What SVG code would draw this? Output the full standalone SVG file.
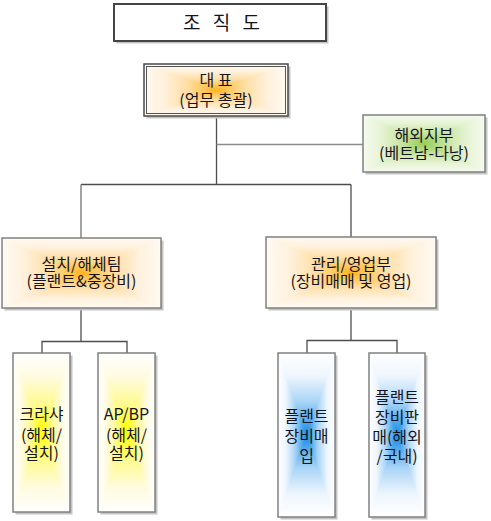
<svg xmlns="http://www.w3.org/2000/svg" width="491" height="521" viewBox="0 0 491 521">
<defs>
<linearGradient id="oH" x1="0" y1="0" x2="1" y2="0"><stop offset="0" stop-color="#fffaf3"/><stop offset="0.14" stop-color="#fff1dc"/><stop offset="0.3" stop-color="#ffdea4"/><stop offset="0.43" stop-color="#ffc452"/><stop offset="0.5" stop-color="#ffb420"/><stop offset="0.57" stop-color="#ffc452"/><stop offset="0.7" stop-color="#ffdea4"/><stop offset="0.86" stop-color="#fff1dc"/><stop offset="1" stop-color="#fffaf3"/></linearGradient>
<linearGradient id="oV" x1="0" y1="0" x2="0" y2="1" href="#oH"/>
<linearGradient id="gH" x1="0" y1="0" x2="1" y2="0"><stop offset="0" stop-color="#f6fbef"/><stop offset="0.15" stop-color="#e6f3d4"/><stop offset="0.32" stop-color="#c6e4a0"/><stop offset="0.5" stop-color="#98cd58"/><stop offset="0.68" stop-color="#c6e4a0"/><stop offset="0.85" stop-color="#e6f3d4"/><stop offset="1" stop-color="#f6fbef"/></linearGradient>
<linearGradient id="gV" x1="0" y1="0" x2="0" y2="1" href="#gH"/>
<linearGradient id="yH" x1="0" y1="0" x2="1" y2="0"><stop offset="0" stop-color="#ffffff"/><stop offset="0.15" stop-color="#fffbe0"/><stop offset="0.32" stop-color="#fffa90"/><stop offset="0.5" stop-color="#ffff00"/><stop offset="0.68" stop-color="#fffa90"/><stop offset="0.85" stop-color="#fffbe0"/><stop offset="1" stop-color="#ffffff"/></linearGradient>
<linearGradient id="yV" x1="0" y1="0" x2="0" y2="1" href="#yH"/>
<linearGradient id="bH" x1="0" y1="0" x2="1" y2="0"><stop offset="0" stop-color="#ffffff"/><stop offset="0.14" stop-color="#eef6fd"/><stop offset="0.3" stop-color="#a8d4f6"/><stop offset="0.42" stop-color="#4ea8ee"/><stop offset="0.5" stop-color="#1a8aea"/><stop offset="0.58" stop-color="#4ea8ee"/><stop offset="0.7" stop-color="#a8d4f6"/><stop offset="0.86" stop-color="#eef6fd"/><stop offset="1" stop-color="#ffffff"/></linearGradient>
<linearGradient id="bV" x1="0" y1="0" x2="0" y2="1" href="#bH"/>
</defs>
<style>
text{font-family:"Malgun Gothic","Noto Sans CJK KR","Noto Sans",sans-serif;fill:#141420;text-anchor:middle}
.t{font-size:16px}
.h{font-size:19px}
.sh{fill:#c4c4c4}
.bd{fill:none;stroke:#808080;stroke-width:1.5}
.dk{fill:none;stroke:#4a4a4a;stroke-width:1.5}
.ln{fill:none;stroke:#4d4d4d;stroke-width:1.3}
.lg{fill:none;stroke:#8c8c8c;stroke-width:1.6}
</style>
<rect width="491" height="521" fill="#ffffff"/>

<g id="connectors">
<path class="ln" d="M216.5,116V184"/>
<path class="lg" d="M216.5,144.5H363"/>
<path class="ln" d="M81,184.5H351"/>
<path class="lg" d="M81,184.5V238"/>
<path class="ln" d="M351,184.5V237"/>
<path class="ln" d="M81,308V341.5"/>
<path class="ln" d="M42,353V341.5H127V353"/>
<path class="ln" d="M351,308V340.5"/>
<path class="ln" d="M307,353V340.5H397V353"/>
</g>

<g id="title">
<rect class="sh" x="116.5" y="6.5" width="212" height="37"/>
<rect x="114" y="4" width="212" height="37" fill="#fff" stroke="#454545" stroke-width="2"/>
<text class="h" x="223.5" y="30" letter-spacing="4">조 직 도</text>
</g>

<g id="ceo">
<rect class="sh" x="146.5" y="66.5" width="144" height="52"/>
<rect x="144" y="64" width="144" height="52" fill="url(#oH)"/>
<path d="M144,64H288L216,90ZM144,116H288L216,90Z" fill="url(#oV)"/>
<rect class="dk" x="144" y="64" width="144" height="52"/>
<rect x="146.5" y="66.5" width="139" height="47" fill="none" stroke="#555" stroke-width="1"/>
<text class="t" x="216" y="86">대 표</text>
<text class="t" x="216" y="106">(업무 총괄)</text>
</g>

<g id="overseas">
<rect class="sh" x="365.5" y="117.5" width="122" height="57"/>
<rect x="363" y="115" width="122" height="57" fill="url(#gH)"/>
<path d="M363,115H485L424,143.5ZM363,172H485L424,143.5Z" fill="url(#gV)"/>
<rect class="bd" x="363" y="115" width="122" height="57"/>
<text class="t" x="424" y="141">해외지부</text>
<text class="t" x="424" y="159">(베트남-다낭)</text>
</g>

<g id="install">
<rect class="sh" x="4.5" y="240.5" width="159" height="70"/>
<rect x="2" y="238" width="159" height="70" fill="url(#oH)"/>
<path d="M2,238H161L81.5,273ZM2,308H161L81.5,273Z" fill="url(#oV)"/>
<rect class="bd" x="2" y="238" width="159" height="70"/>
<text class="t" x="81.5" y="270">설치/해체팀</text>
<text class="t" x="81.5" y="287">(플랜트&amp;중장비)</text>
</g>

<g id="manage">
<rect class="sh" x="268.5" y="239.5" width="170" height="71"/>
<rect x="266" y="237" width="170" height="71" fill="url(#oH)"/>
<path d="M266,237H436L351,272.5ZM266,308H436L351,272.5Z" fill="url(#oV)"/>
<rect class="bd" x="266" y="237" width="170" height="71"/>
<text class="t" x="351" y="270">관리/영업부</text>
<text class="t" x="351" y="287">(장비매매 및 영업)</text>
</g>

<g id="crusher">
<rect class="sh" x="15.5" y="355.5" width="57" height="159"/>
<rect x="13" y="353" width="57" height="159" fill="url(#yH)"/>
<path d="M13,353H70L41.5,432.5ZM13,512H70L41.5,432.5Z" fill="url(#yV)"/>
<rect class="bd" x="13" y="353" width="57" height="159"/>
<text class="t" x="41.5" y="420">크라샤</text>
<text class="t" x="41.5" y="441">(해체/</text>
<text class="t" x="41.5" y="459">설치)</text>
</g>

<g id="apbp">
<rect class="sh" x="100.5" y="355.5" width="57" height="159"/>
<rect x="98" y="353" width="57" height="159" fill="url(#yH)"/>
<path d="M98,353H155L126.5,432.5ZM98,512H155L126.5,432.5Z" fill="url(#yV)"/>
<rect class="bd" x="98" y="353" width="57" height="159"/>
<text class="t" x="126.5" y="420">AP/BP</text>
<text class="t" x="126.5" y="441">(해체/</text>
<text class="t" x="126.5" y="459">설치)</text>
</g>

<g id="purchase">
<rect class="sh" x="280.5" y="355.5" width="57" height="164"/>
<rect x="278" y="353" width="57" height="164" fill="url(#bH)"/>
<path d="M278,353H335L306.5,435ZM278,517H335L306.5,435Z" fill="url(#bV)"/>
<rect class="bd" x="278" y="353" width="57" height="164"/>
<text class="t" x="306.5" y="422">플랜트</text>
<text class="t" x="306.5" y="442">장비매</text>
<text class="t" x="306.5" y="462">입</text>
</g>

<g id="sales">
<rect class="sh" x="371.5" y="355.5" width="56" height="164"/>
<rect x="369" y="353" width="56" height="164" fill="url(#bH)"/>
<path d="M369,353H425L397,435ZM369,517H425L397,435Z" fill="url(#bV)"/>
<rect class="bd" x="369" y="353" width="56" height="164"/>
<text class="t" x="397" y="403">플랜트</text>
<text class="t" x="397" y="423">장비판</text>
<text class="t" x="397" y="443">매(해외</text>
<text class="t" x="397" y="462">/국내)</text>
</g>
</svg>
